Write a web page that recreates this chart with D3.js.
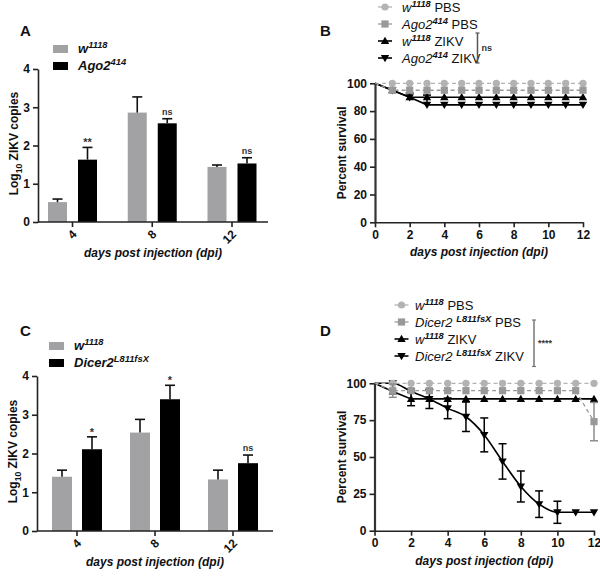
<!DOCTYPE html>
<html><head><meta charset="utf-8">
<script src="https://cdn.jsdelivr.net/npm/d3@7"></script>
<style>body{margin:0;background:#fff}svg text{font-family:"Liberation Sans",Arial,sans-serif}</style>
</head><body><svg id="c" width="600" height="576"></svg>
<script>
// ---------- DATA ----------
const barDays = ["4", "8", "12"];
const aW = [0.52, 2.86, 1.44];
const aWErr = [0.08, 0.41, 0.05];
const aAgo = [1.63, 2.58, 1.53];
const aAgoErr = [0.32, 0.12, 0.15];
const aSig = ["**", "ns", "ns"];

const cW = [1.40, 2.54, 1.33];
const cWErr = [0.17, 0.34, 0.24];
const cDcr = [2.11, 3.40, 1.75];
const cDcrErr = [0.32, 0.36, 0.21];
const cSig = ["*", "*", "ns"];

const days = [0, 1, 2, 3, 4, 5, 6, 7, 8, 9, 10, 11, 12];
const bWPBS     = [100, 100, 100, 100, 100, 100, 100, 100, 100, 100, 100, 100, 100];
const bAgoPBS   = [100, 95, 95, 95, 95, 95, 95, 95, 95, 95, 95, 95, 95];
const bWZIKV    = [100, 95, 90, 90, 90, 90, 90, 90, 90, 90, 90, 90, 90];
const bWZIKVErr = [0, 0, 3, 0, 0, 0, 0, 0, 0, 0, 0, 0, 0];
const bAgoZIKV  = [100, 95, 90, 84.5, 84.5, 84.5, 84.5, 84.5, 84.5, 84.5, 84.5, 84.5, 84.5];
const bAgoZIKVErr = [0, 0, 0, 7, 0, 0, 0, 0, 0, 0, 0, 0, 0];

const dWPBS     = [100, 100, 100, 100, 100, 100, 100, 100, 100, 100, 100, 100, 100];
const dDcrPBS   = [100, 95, 95, 95, 95, 95, 95, 95, 95, 95, 95, 95, 74];
const dDcrPBSErr = [0, 4.5, 0, 0, 0, 0, 0, 0, 0, 0, 0, 0, 13];
const dWZIKV    = [100, 94.5, 89.4, 89.4, 89.4, 89.4, 89.4, 89.4, 89.4, 89.4, 89.4, 89.4, 89.4];
const dWZIKVErr = [0, 0, 4.6, 0, 0, 0, 0, 0, 0, 0, 0, 0, 0];
const dDcrZIKV  = [100, 100, 94.5, 89.4, 83, 77.3, 65, 47, 30, 18, 12.5, 12.5, 12.5];
const dDcrZIKVErr = [0, 0, 0, 6.5, 7, 10, 11.5, 12, 10.5, 9, 7.5, 0, 0];

const yTicksBar = [0, 1, 2, 3, 4];
const xTicksSurv = [0, 2, 4, 6, 8, 10, 12];
const yTicksB = [0, 20, 40, 60, 80, 100];
const yTicksD = [0, 25, 50, 75, 100];

// ---------- HELPERS ----------
const svg = d3.select("#c");
const FONT = '"Liberation Sans",Arial,sans-serif';
const GRAYBAR = "#a2a2a5";
const GRAYC = "#b3b3b3";
const GRAYS = "#999999";

function rich(g, x, y, parts, size, anchor) {
  const t = g.append("text").attr("x", x).attr("y", y)
    .attr("font-size", size).attr("text-anchor", anchor || "start").attr("fill", "#111");
  let shift = 0;
  parts.forEach(p => {
    const s = t.append("tspan").text(p.t)
      .attr("font-style", p.i ? "italic" : "normal")
      .attr("font-weight", p.b ? "bold" : "normal");
    let target = 0;
    if (p.sup) { s.attr("font-size", size * 0.72); target = -5; }
    if (p.sub) { s.attr("font-size", size * 0.72); target = 4; }
    if (target !== shift) { s.attr("dy", target - shift); shift = target; }
  });
  return t;
}

function styleAxis(g) {
  g.selectAll("path.domain").attr("stroke", "#222").attr("stroke-width", 1.6);
  g.selectAll(".tick line").attr("stroke", "#222").attr("stroke-width", 1.6);
  g.selectAll(".tick text").attr("font-family", FONT).attr("font-size", 12)
    .attr("font-weight", "bold").attr("fill", "#111");
}

function panelLetter(x, y, s) {
  svg.append("text").attr("x", x).attr("y", y).attr("font-size", 15)
    .attr("font-weight", "bold").attr("fill", "#111").text(s);
}

// ---------- BAR PANEL ----------
function barPanel(o) {
  const g = svg.append("g");
  const y = d3.scaleLinear().domain([0, 4]).range([o.y0, o.y4]);
  const x = d3.scalePoint().domain(barDays).range([o.c0, o.c2]);
  const series = [
    { v: o.w, e: o.we, col: GRAYBAR, off: -o.off },
    { v: o.m, e: o.me, col: "#000", off: o.off }
  ];
  series.forEach(s => {
    barDays.forEach((d, i) => {
      const cx = x(d) + s.off;
      g.append("rect").attr("x", cx - o.bw / 2).attr("width", o.bw)
        .attr("y", y(s.v[i])).attr("height", y(0) - y(s.v[i])).attr("fill", s.col);
      const top = y(s.v[i] + s.e[i]);
      g.append("line").attr("x1", cx).attr("x2", cx).attr("y1", y(s.v[i])).attr("y2", top)
        .attr("stroke", "#111").attr("stroke-width", 1.6);
      g.append("line").attr("x1", cx - 5).attr("x2", cx + 5).attr("y1", top).attr("y2", top)
        .attr("stroke", "#111").attr("stroke-width", 1.6);
    });
  });
  barDays.forEach((d, i) => {
    const cx = x(d) + o.off;
    const top = y(o.m[i] + o.me[i]);
    g.append("text").attr("x", cx).attr("y", top - (o.sig[i] === "ns" ? 4 : 1))
      .attr("text-anchor", "middle").attr("font-size", o.sig[i] === "ns" ? 9 : 11)
      .attr("font-weight", "bold").attr("fill", "#333").text(o.sig[i]);
  });
  const ya = g.append("g").attr("transform", `translate(${o.xl},0)`)
    .call(d3.axisLeft(y).tickValues(yTicksBar).tickFormat(d3.format("d")).tickSize(5).tickSizeOuter(0).tickPadding(3));
  styleAxis(ya);
  const xa = g.append("g").attr("transform", `translate(0,${o.y0})`);
  xa.append("line").attr("x1", o.xl).attr("x2", o.xr).attr("y1", 0).attr("y2", 0)
    .attr("stroke", "#222").attr("stroke-width", 1.6);
  barDays.forEach(d => {
    xa.append("line").attr("x1", x(d)).attr("x2", x(d)).attr("y1", 0).attr("y2", 5)
      .attr("stroke", "#222").attr("stroke-width", 1.6);
    xa.append("text").attr("transform", `translate(${x(d) + 5},${13}) rotate(-45)`)
      .attr("text-anchor", "end").attr("font-size", 12).attr("font-weight", "bold")
      .attr("fill", "#111").text(d);
  });
  const yl = rich(g, 0, 0, [{ t: "Log", b: 1 }, { t: "10", b: 1, sub: 1 }, { t: " ZIKV copies", b: 1 }], 12, "middle");
  yl.attr("transform", `translate(${o.xl - 20},${(o.y0 + o.y4) / 2 - 2}) rotate(-90)`);
  g.append("text").attr("x", (o.xl + o.xr) / 2).attr("y", o.y0 + 35).attr("text-anchor", "middle")
    .attr("font-size", 12).attr("font-weight", "bold").attr("font-style", "italic").attr("fill", "#111")
    .text("days post injection (dpi)");
  g.append("rect").attr("x", o.lx).attr("y", o.ly).attr("width", 15).attr("height", 8).attr("fill", GRAYBAR);
  g.append("rect").attr("x", o.lx).attr("y", o.ly + 17).attr("width", 15).attr("height", 8).attr("fill", "#000");
  rich(g, o.lx + 25, o.ly + 8, [{ t: "w", b: 1, i: 1 }, { t: "1118", b: 1, i: 1, sup: 1 }], 13);
  rich(g, o.lx + 25, o.ly + 25, o.mut, 13);
}

barPanel({ y0: 222, y4: 69, xl: 38, xr: 268, c0: 72.5, c2: 232, off: 15, bw: 19,
  w: aW, we: aWErr, m: aAgo, me: aAgoErr, sig: aSig, lx: 53, ly: 45,
  mut: [{ t: "Ago2", b: 1, i: 1 }, { t: "414", b: 1, i: 1, sup: 1 }] });
barPanel({ y0: 531, y4: 376, xl: 37, xr: 273, c0: 77, c2: 233, off: 15, bw: 20,
  w: cW, we: cWErr, m: cDcr, me: cDcrErr, sig: cSig, lx: 49, ly: 342,
  mut: [{ t: "Dicer2", b: 1, i: 1 }, { t: "L811fsX", b: 1, i: 1, sup: 1 }] });

panelLetter(20, 36, "A");
panelLetter(20, 336, "C");
panelLetter(320, 36, "B");
panelLetter(320, 336, "D");

// ---------- SURVIVAL PANEL ----------
function marker(g, type, cx, cy, col) {
  if (type === "circle") g.append("circle").attr("cx", cx).attr("cy", cy).attr("r", 3.6).attr("fill", col);
  else if (type === "square") g.append("rect").attr("x", cx - 3.6).attr("y", cy - 3.6).attr("width", 7.2).attr("height", 7.2).attr("fill", col);
  else if (type === "up") g.append("path").attr("d", `M${cx},${cy - 4.2}L${cx + 4.2},${cy + 3}L${cx - 4.2},${cy + 3}Z`).attr("fill", col);
  else g.append("path").attr("d", `M${cx},${cy + 4.2}L${cx + 4.2},${cy - 3}L${cx - 4.2},${cy - 3}Z`).attr("fill", col);
}

function survPanel(o) {
  const g = svg.append("g");
  const x = d3.scaleLinear().domain([0, 12]).range([o.x0, o.x12]);
  const y = d3.scaleLinear().domain([0, 100]).range([o.y0, o.y100]);
  // draw order: ZIKV first, PBS on top
  o.drawOrder.forEach(k => {
    const s = o.series[k];
    const line = d3.line().x((d, i) => x(days[i])).y(d => y(d)).curve(s.curve || d3.curveLinear);
    g.append("path").attr("d", line(s.v)).attr("fill", "none").attr("stroke", s.lc)
      .attr("stroke-width", s.dash ? 1.3 : 1.6).attr("stroke-dasharray", s.dash ? "4,3" : null);
    if (s.e) s.v.forEach((v, i) => {
      if (!s.e[i]) return;
      const cx = x(days[i]);
      const lo = s.upOnly ? y(v) : y(v - s.e[i]), hi = y(v + s.e[i]);
      g.append("line").attr("x1", cx).attr("x2", cx).attr("y1", lo).attr("y2", hi).attr("stroke", s.ec).attr("stroke-width", 1.5);
      g.append("line").attr("x1", cx - 4).attr("x2", cx + 4).attr("y1", hi).attr("y2", hi).attr("stroke", s.ec).attr("stroke-width", 1.5);
      if (!s.upOnly) g.append("line").attr("x1", cx - 4).attr("x2", cx + 4).attr("y1", lo).attr("y2", lo).attr("stroke", s.ec).attr("stroke-width", 1.5);
    });
    s.v.forEach((v, i) => { if (i > 0) marker(g, s.m, x(days[i]), y(v), s.mc); });
  });
  const ya = g.append("g").attr("transform", `translate(${o.x0},0)`)
    .call(d3.axisLeft(y).tickValues(o.yt).tickSize(5).tickSizeOuter(0).tickPadding(3));
  styleAxis(ya);
  ya.select("path.domain").attr("stroke-width", 2.2).attr("stroke", "#333");
  const xa = g.append("g").attr("transform", `translate(0,${o.y0})`)
    .call(d3.axisBottom(x).tickValues(xTicksSurv).tickSize(5).tickSizeOuter(0).tickPadding(3));
  styleAxis(xa);
  g.append("text").attr("transform", `translate(${o.x0 - 29},${(o.y0 + o.y100) / 2}) rotate(-90)`)
    .attr("text-anchor", "middle").attr("font-size", 12).attr("font-weight", "bold").attr("fill", "#111")
    .text("Percent survival");
  g.append("text").attr("x", (o.x0 + o.x12) / 2).attr("y", o.y0 + 34).attr("text-anchor", "middle")
    .attr("font-size", 12).attr("font-weight", "bold").attr("font-style", "italic").attr("fill", "#111")
    .text("days post injection (dpi)");
  // legend (series array is in legend order)
  o.series.forEach((s, k) => {
    const ly = o.ly + k * o.ls;
    const sx = o.lx;
    if (s.dash) {
      g.append("line").attr("x1", sx - 7).attr("x2", sx - 3).attr("y1", ly).attr("y2", ly).attr("stroke", s.lc).attr("stroke-width", 1.3);
      g.append("line").attr("x1", sx + 3).attr("x2", sx + 7).attr("y1", ly).attr("y2", ly).attr("stroke", s.lc).attr("stroke-width", 1.3);
    } else {
      g.append("line").attr("x1", sx - 7).attr("x2", sx + 7).attr("y1", ly).attr("y2", ly).attr("stroke", s.lc).attr("stroke-width", 1.6);
    }
    marker(g, s.m, sx, ly, s.mc);
    rich(g, o.tx, ly + 5, s.label, 13);
  });
  g.append("line").attr("x1", o.bx).attr("x2", o.bx).attr("y1", o.by0).attr("y2", o.by1).attr("stroke", o.bc).attr("stroke-width", 1.5);
  [o.by0, o.by1].forEach(yy => g.append("line").attr("x1", o.bx - 2).attr("x2", o.bx + 2).attr("y1", yy).attr("y2", yy).attr("stroke", o.bc).attr("stroke-width", 1.2));
  g.append("text").attr("x", o.bx + 4).attr("y", (o.by0 + o.by1) / 2 + 3).attr("font-size", 9)
    .attr("font-weight", "bold").attr("fill", "#333").text(o.sig);
}

const wSup = [{ t: "w", i: 1 }, { t: "1118", i: 1, b: 1, sup: 1 }];
survPanel({
  x0: 375, x12: 583, y0: 222.3, y100: 83.3, yt: yTicksB,
  lx: 385, tx: 402, ly: 7, ls: 17, bx: 477.5, by0: 33, by1: 63, bc: "#555", sig: "ns",
  drawOrder: [2, 3, 0, 1],
  series: [
    { v: bWPBS, m: "circle", mc: GRAYC, lc: GRAYC, dash: 1, label: [...wSup, { t: " PBS" }] },
    { v: bAgoPBS, m: "square", mc: GRAYS, lc: GRAYS, dash: 1,
      label: [{ t: "Ago2", i: 1 }, { t: "414", i: 1, b: 1, sup: 1 }, { t: " PBS" }] },
    { v: bWZIKV, e: bWZIKVErr, upOnly: 1, ec: "#000", m: "up", mc: "#000", lc: "#000",
      label: [...wSup, { t: " ZIKV" }] },
    { v: bAgoZIKV, e: bAgoZIKVErr, upOnly: 1, ec: "#000", m: "down", mc: "#000", lc: "#000",
      label: [{ t: "Ago2", i: 1 }, { t: "414", i: 1, b: 1, sup: 1 }, { t: " ZIKV" }] }
  ]
});
survPanel({
  x0: 374.5, x12: 594, y0: 530.7, y100: 383.3, yt: yTicksD,
  lx: 401.5, tx: 415, ly: 305, ls: 17, bx: 534, by0: 320, by1: 366.5, bc: "#777", sig: "****",
  drawOrder: [2, 3, 0, 1],
  series: [
    { v: dWPBS, m: "circle", mc: GRAYC, lc: GRAYC, dash: 1, label: [...wSup, { t: " PBS" }] },
    { v: dDcrPBS, e: dDcrPBSErr, ec: "#8c8c8c", m: "square", mc: GRAYS, lc: GRAYS, dash: 1,
      label: [{ t: "Dicer2 ", i: 1 }, { t: "L811fsX", i: 1, b: 1, sup: 1 }, { t: " PBS" }] },
    { v: dWZIKV, e: dWZIKVErr, ec: "#000", m: "up", mc: "#000", lc: "#000",
      label: [...wSup, { t: " ZIKV" }] },
    { v: dDcrZIKV, e: dDcrZIKVErr, ec: "#000", m: "down", mc: "#000", lc: "#000", curve: d3.curveMonotoneX,
      label: [{ t: "Dicer2 ", i: 1 }, { t: "L811fsX", i: 1, b: 1, sup: 1 }, { t: " ZIKV" }] }
  ]
});
</script></body></html>
